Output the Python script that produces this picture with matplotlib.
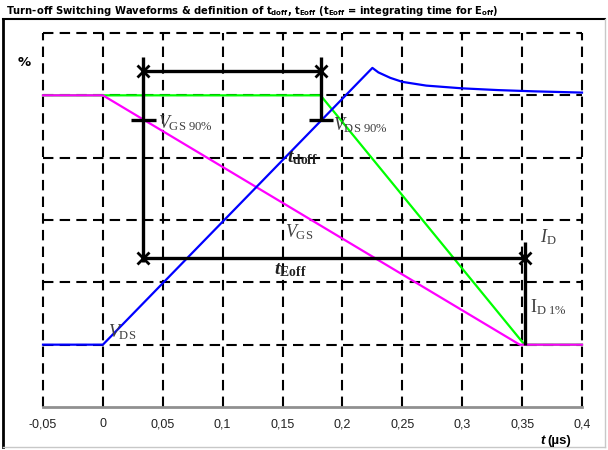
import numpy as np
import matplotlib
matplotlib.use('Agg')
import matplotlib.pyplot as plt
from matplotlib.lines import Line2D

# -- data (t in µs, values in %) ---------------------------------------
vgs_t = [-0.05, 0.0, 0.348, 0.4]
vgs_v = [100, 100, 0, 0]

id_t = [-0.05, 0.1817, 0.352, 0.4]
id_v = [100, 100, 0, 0]

vds_t = [-0.05, 0.0, 0.225, 0.23, 0.24, 0.25, 0.27, 0.30, 0.33, 0.36, 0.40]
vds_v = [0, 0, 111, 109.2, 107.0, 105.4, 103.9, 102.8, 102.1, 101.6, 101.1]

xticks = [-0.05, 0, 0.05, 0.1, 0.15, 0.2, 0.25, 0.3, 0.35, 0.4]
xtick_labels = ['-0,05', '0', '0,05', '0,1', '0,15', '0,2', '0,25', '0,3', '0,35', '0,4']
yticks = [-25, 0, 25, 50, 75, 100, 125]

# annotation markers (definition of t_doff / t_Eoff)
t_gs90 = 0.0333
t_ds90 = 0.1817
t_id1 = 0.3525
y_doff_bar = 109.6
y_eoff_bar = 34.8

BLUE = '#0000FF'
MAGENTA = '#FF00FF'
GREEN = '#00FF00'
TXT = '#404040'

plt.rcParams['mathtext.fontset'] = 'custom'
plt.rcParams['mathtext.rm'] = 'Liberation Serif'
plt.rcParams['mathtext.it'] = 'Liberation Serif:italic'
plt.rcParams['mathtext.bf'] = 'Liberation Serif:bold'
plt.rcParams['mathtext.bfit'] = 'Liberation Serif:italic:bold'
plt.rcParams['mathtext.sf'] = 'DejaVu Sans:bold'

W, H = 608, 450
fig = plt.figure(figsize=(W / 100, H / 100), dpi=100, facecolor='white')
ax = fig.add_axes([43 / W, (H - 407) / H, 539 / W, 374 / H])

# grid (dashed, also on the borders)
for x in xticks:
    ax.axvline(x, color='black', lw=1.5, ls=(0, (5, 3)), zorder=1, clip_on=False)
for y in yticks[1:]:
    ax.axhline(y, color='black', lw=1.5, ls=(0, (5, 3)), zorder=1, clip_on=False)

ax.set_xlim(-0.05, 0.4)
ax.set_ylim(-25, 125)
for s in ['top', 'left', 'right']:
    ax.spines[s].set_visible(False)
ax.spines['bottom'].set_color('#909090')
ax.spines['bottom'].set_linewidth(2)
ax.set_xticks(xticks)
ax.set_xticklabels(xtick_labels, fontfamily='Liberation Sans', fontsize=9, color='#222222')
ax.set_yticks([])
ax.tick_params(axis='x', length=0, pad=8)

# waveforms
ax.plot(id_t, id_v, color=GREEN, lw=1.6, zorder=3, clip_on=False)
ax.plot(vgs_t, vgs_v, color=MAGENTA, lw=1.6, zorder=4, clip_on=False)
ax.plot(vds_t, vds_v, color=BLUE, lw=1.6, zorder=5, clip_on=False)

# definition markers
k = dict(color='black', lw=2.4, zorder=6, solid_capstyle='butt', clip_on=False)
ax.plot([t_gs90, t_ds90], [y_doff_bar, y_doff_bar], marker='x', ms=8, mew=2, **k)
ax.plot([t_gs90, t_id1], [y_eoff_bar, y_eoff_bar], marker='x', ms=8, mew=2, **k)
ax.plot([t_gs90, t_gs90], [115.5, y_eoff_bar - 1.5], **k)
ax.plot([t_ds90, t_ds90], [115.5, 90], **k)
ax.plot([t_id1, t_id1], [41, 0], **k)
ax.plot([t_gs90 - 0.01, t_gs90 + 0.0108], [90, 90], **k)
ax.plot([t_ds90 - 0.01, t_ds90 + 0.0108], [90, 90], **k)

# labels
lk = dict(fontsize=13, color=TXT, va='center', ha='left', zorder=7)
ax.text(0.0458, 89, r'$V_{\mathrm{GS\ 90\%}}$', **lk)
ax.text(0.1925, 88, r'$V_{\mathrm{DS\ 90\%}}$', **lk)
ax.text(0.152, 45, r'$V_{\mathrm{GS}}$', **lk)
ax.text(0.004, 5, r'$V_{\mathrm{DS}}$', **lk)
ax.text(0.365, 43, r'$I_{\mathrm{D}}$', **lk)
ax.text(0.357, 15, r'$\mathrm{I}_{\mathrm{D\ 1\%}}$', **lk)
ax.text(0.154, 75, r'$\mathbfit{t}_{\mathbf{doff}}$', fontsize=14, color='#222222',
        va='center', ha='left', zorder=7)
ax.text(0.1425, 30, r'$\mathbfit{t}_{\mathbf{Eoff}}$', fontsize=14, color='#222222',
        va='center', ha='left', zorder=7)

# figure texts
fig.text(6 / W, 1 - 11 / H,
         r'Turn-off Switching Waveforms & definition of t$_{\mathsf{doff}}$, t$_{\mathsf{Eoff}}$ '
         r'(t$_{\mathsf{Eoff}}$ = integrating time for E$_{\mathsf{off}}$)',
         fontsize=7.2, fontweight='bold', va='center', ha='left')
fig.text(24 / W, 1 - 62 / H, '%', fontsize=9.5, fontweight='bold', va='center', ha='center')
fig.text(545 / W, 1 - 441 / H, 't', fontfamily='Liberation Sans', fontsize=9.5,
         fontweight='bold', fontstyle='italic', va='center', ha='right')
fig.text(547 / W, 1 - 441 / H, '(µs)', fontfamily='Liberation Sans', fontsize=9.5,
         fontweight='bold', va='center', ha='left')

# outer frame
fig.add_artist(Line2D([3 / W, 3 / W], [1 - 19 / H, 3 / H], color='black', lw=2))
fig.add_artist(Line2D([3 / W, 605 / W], [1 - 19 / H, 1 - 19 / H], color='black', lw=1.5))
fig.add_artist(Line2D([605 / W, 605 / W], [1 - 19 / H, 3 / H], color='#c8c8c8', lw=1))
fig.add_artist(Line2D([3 / W, 605 / W], [3 / H, 3 / H], color='#c8c8c8', lw=1))

fig.savefig('out.png', dpi=100, facecolor='white')
